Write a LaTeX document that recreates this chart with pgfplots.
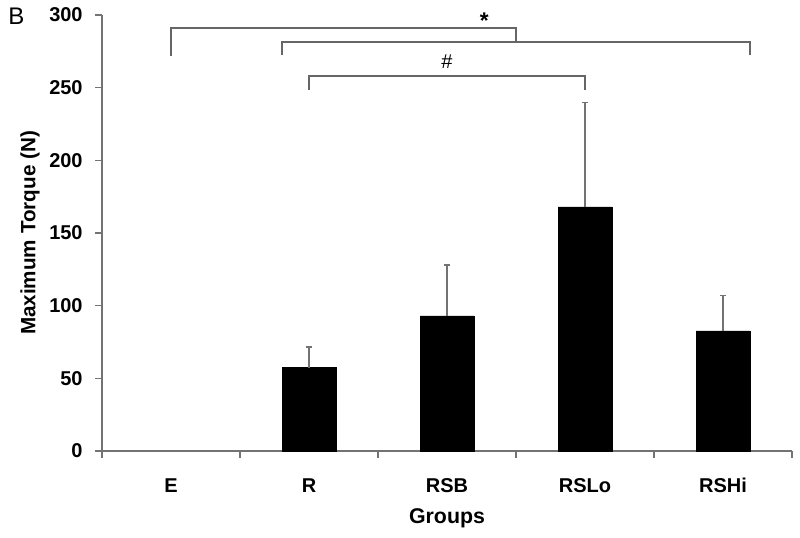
\documentclass[border=0pt]{standalone}
\usepackage{pgfplots}
\pgfplotsset{compat=1.18}
\usepackage{fontspec}
\setmainfont{Liberation Sans}
\begin{document}
\begin{tikzpicture}[x=1pt,y=1pt]
\useasboundingbox (0,0) rectangle (600,403.5);
\node[anchor=base west, inner sep=0pt, font=\fontsize{18}{20}\selectfont] at (6,385) {B};
\begin{axis}[
  at={(76.5pt,65.25pt)}, anchor=south west,
  width=517.5pt, height=327pt, scale only axis,
  xmin=-0.5, xmax=4.5, ymin=0, ymax=300,
  axis x line*=bottom, axis y line*=left,
  axis line style={black!55, line width=0.9pt},
  ytick={0,50,...,300},
  xtick={0,1,2,3,4}, xticklabels={E,R,RSB,RSLo,RSHi},
  major x tick style={draw=none},
  minor xtick={-0.5,0.5,...,4.5},
  tick align=outside,
  major tick length=5pt, minor tick length=5pt,
  tick style={black!55, line width=0.9pt},
  /pgf/number format/assume math mode=true,
  tick label style={font=\bfseries\fontsize{15}{17}\selectfont},
  xticklabel style={yshift=-12pt},
  yticklabel style={xshift=-6pt},
  ylabel={Maximum Torque (N)},
  xlabel={Groups},
  every axis y label/.style={at={(axis description cs:-0.1043,0.5)}, rotate=90, anchor=center, font=\bfseries\fontsize{15.5}{17}\selectfont},
  every axis x label/.style={at={(axis description cs:0.5,-0.1537)}, anchor=center, font=\bfseries\fontsize{16}{18}\selectfont},
  clip=false,
]
\addplot[ybar, bar width=0.39, fill=black, draw=black,
  error bars/.cd, y dir=plus, y explicit,
  error bar style={black!55, line width=0.9pt},
  error mark options={rotate=90, black!55, mark size=2pt, line width=0.9pt}]
  coordinates {
  (1,57.3) +- (0,14.2)
  (2,92.9) +- (0,35.1)
  (3,168.0) +- (0,72.0)
  (4,82.6) +- (0,24.4)
};
\draw[black!60, line width=0.9pt] (axis cs:0,272) -- (axis cs:0,291) -- (axis cs:2.5,291) -- (axis cs:2.5,281.4);
\draw[black!60, line width=0.9pt] (axis cs:0.804,272.5) -- (axis cs:0.804,281.4) -- (axis cs:4.196,281.4) -- (axis cs:4.196,272.5);
\draw[black!60, line width=0.9pt] (axis cs:1,248.4) -- (axis cs:1,258) -- (axis cs:3,258) -- (axis cs:3,248.4);
\node[anchor=base, inner sep=0pt, font=\bfseries\fontsize{17}{18}\selectfont] at (axis cs:2.27,291) {*};
\node[anchor=base, inner sep=0pt, font=\fontsize{15}{17}\selectfont] at (axis cs:2.0,263) {\#};
\end{axis}
\end{tikzpicture}
\end{document}
